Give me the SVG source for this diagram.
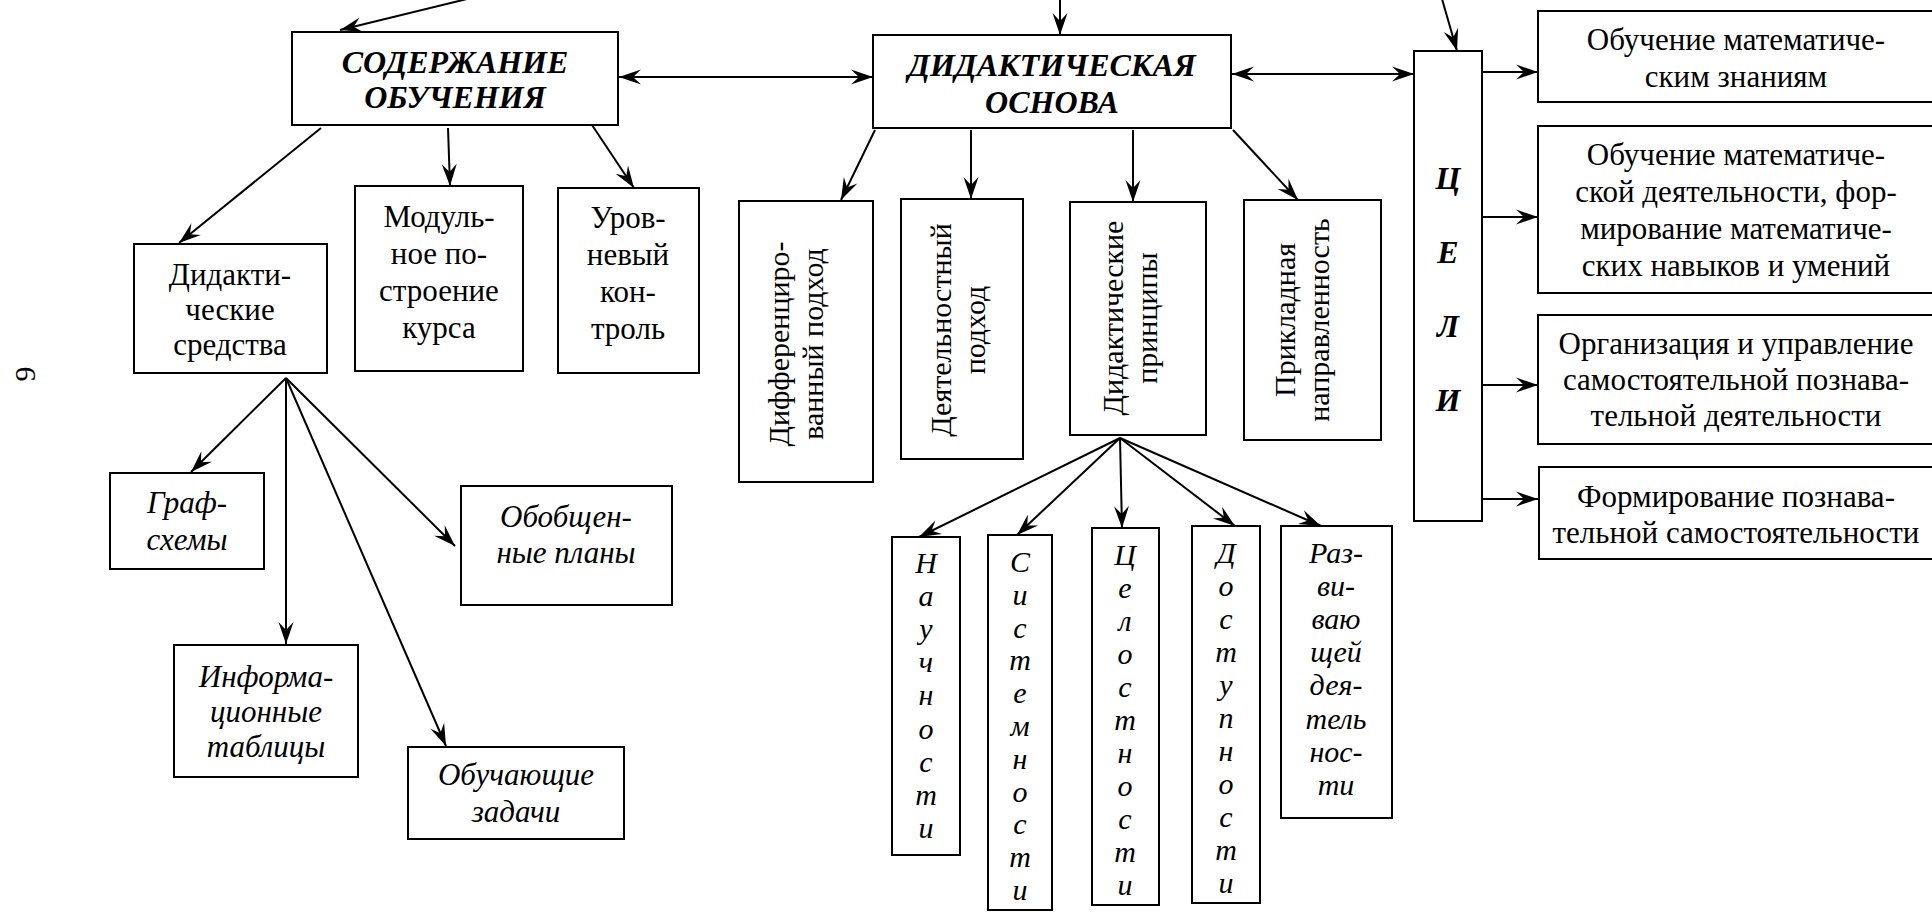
<svg xmlns="http://www.w3.org/2000/svg" width="1932" height="912" viewBox="0 0 1932 912">
<defs>
<style>
.box{fill:#fff;stroke:#000;stroke-width:2}
.t{font-family:'Liberation Serif','Times New Roman',serif;font-size:31px;text-anchor:middle;fill:#000}
.v{font-size:30px}
.i{font-style:italic}
.b{font-style:italic;font-weight:bold;font-size:32px}
.c{stroke:#000;stroke-width:2;fill:none;marker-end:url(#ah)}
.d{stroke:#000;stroke-width:2;fill:none;marker-end:url(#ah);marker-start:url(#ah)}
</style>
<marker id="ah" viewBox="-24 -9 26 18" refX="0" refY="0" markerWidth="26" markerHeight="18" markerUnits="userSpaceOnUse" orient="auto-start-reverse">
<path d="M0,0 L-22,-7.5 L-14,0 L-22,7.5 Z" fill="#000"/>
</marker>
</defs>
<rect width="1932" height="912" fill="#fff"/>

<g id="connectors">
<line class="c" x1="467" y1="-1" x2="340" y2="30"/>
<line class="c" x1="1060" y1="-1" x2="1060" y2="35"/>
<line class="c" x1="1442" y1="-1" x2="1457" y2="51"/>
<line class="d" x1="619" y1="77" x2="873" y2="77"/>
<line class="d" x1="1232" y1="74" x2="1414" y2="74"/>
<line class="c" x1="1482" y1="72" x2="1538" y2="72"/>
<line class="c" x1="1482" y1="217" x2="1538" y2="217"/>
<line class="c" x1="1482" y1="385" x2="1538" y2="385"/>
<line class="c" x1="1482" y1="499" x2="1538" y2="499"/>
<line class="c" x1="321" y1="128" x2="179" y2="243"/>
<line class="c" x1="448" y1="128" x2="450" y2="186"/>
<line class="c" x1="592" y1="125" x2="634" y2="188"/>
<line class="c" x1="286" y1="378" x2="191" y2="472"/>
<line class="c" x1="286" y1="378" x2="286" y2="644"/>
<line class="c" x1="286" y1="378" x2="455" y2="546"/>
<line class="c" x1="286" y1="378" x2="446" y2="746"/>
<line class="c" x1="875" y1="130" x2="841" y2="200"/>
<line class="c" x1="971" y1="130" x2="971" y2="199"/>
<line class="c" x1="1133" y1="130" x2="1133" y2="202"/>
<line class="c" x1="1233" y1="130" x2="1298" y2="200"/>
<line class="c" x1="1120" y1="438" x2="919" y2="537"/>
<line class="c" x1="1120" y1="438" x2="1017" y2="535"/>
<line class="c" x1="1120" y1="438" x2="1122" y2="528"/>
<line class="c" x1="1120" y1="438" x2="1235" y2="526"/>
<line class="c" x1="1120" y1="438" x2="1321" y2="526"/>
</g>

<g id="page-number">
<text class="t v" transform="translate(35,374) rotate(-90)">9</text>
</g>

<g id="soderzhanie">
<rect class="box" x="292" y="32" width="326" height="93"/>
<text class="t b"><tspan x="455" y="73">СОДЕРЖАНИЕ</tspan><tspan x="455" y="108">ОБУЧЕНИЯ</tspan></text>
</g>

<g id="didakticheskaya-osnova">
<rect class="box" x="873" y="35" width="358" height="93"/>
<text class="t b"><tspan x="1052" y="76">ДИДАКТИЧЕСКАЯ</tspan><tspan x="1052" y="113">ОСНОВА</tspan></text>
</g>

<g id="celi">
<rect class="box" x="1414" y="51" width="68" height="470"/>
<text class="t b"><tspan x="1448" y="189">Ц</tspan><tspan x="1448" y="263">Е</tspan><tspan x="1448" y="337">Л</tspan><tspan x="1448" y="411">И</tspan></text>
</g>

<g id="goal1">
<rect class="box" x="1538" y="11" width="410" height="91"/>
<text class="t"><tspan x="1736" y="50">Обучение математиче-</tspan><tspan x="1736" y="87">ским знаниям</tspan></text>
</g>
<g id="goal2">
<rect class="box" x="1538" y="126" width="410" height="167"/>
<text class="t"><tspan x="1736" y="165">Обучение математиче-</tspan><tspan x="1736" y="202">ской деятельности, фор-</tspan><tspan x="1736" y="239">мирование математиче-</tspan><tspan x="1736" y="276">ских навыков и умений</tspan></text>
</g>
<g id="goal3">
<rect class="box" x="1538" y="315" width="410" height="129"/>
<text class="t"><tspan x="1736" y="354">Организация и управление</tspan><tspan x="1736" y="390">самостоятельной познава-</tspan><tspan x="1736" y="426">тельной деятельности</tspan></text>
</g>
<g id="goal4">
<rect class="box" x="1539" y="467" width="410" height="92"/>
<text class="t"><tspan x="1736" y="507">Формирование познава-</tspan><tspan x="1736" y="543">тельной самостоятельности</tspan></text>
</g>

<g id="didakticheskie-sredstva">
<rect class="box" x="134" y="244" width="193" height="129"/>
<text class="t"><tspan x="230" y="285">Дидакти-</tspan><tspan x="230" y="320">ческие</tspan><tspan x="230" y="355">средства</tspan></text>
</g>
<g id="modulnoe">
<rect class="box" x="355" y="186" width="168" height="185"/>
<text class="t"><tspan x="439" y="227">Модуль-</tspan><tspan x="439" y="264">ное по-</tspan><tspan x="439" y="301">строение</tspan><tspan x="439" y="338">курса</tspan></text>
</g>
<g id="urovnevyy">
<rect class="box" x="558" y="188" width="141" height="185"/>
<text class="t"><tspan x="628" y="228">Уров-</tspan><tspan x="628" y="265">невый</tspan><tspan x="628" y="302">кон-</tspan><tspan x="628" y="339">троль</tspan></text>
</g>

<g id="graf-shemy">
<rect class="box" x="110" y="473" width="154" height="96"/>
<text class="t i"><tspan x="187" y="513">Граф-</tspan><tspan x="187" y="550">схемы</tspan></text>
</g>
<g id="informacionnye">
<rect class="box" x="174" y="645" width="184" height="132"/>
<text class="t i"><tspan x="266" y="687">Информа-</tspan><tspan x="266" y="722">ционные</tspan><tspan x="266" y="757">таблицы</tspan></text>
</g>
<g id="obobshennye">
<rect class="box" x="461" y="486" width="211" height="119"/>
<text class="t i"><tspan x="566" y="527">Обобщен-</tspan><tspan x="566" y="563">ные планы</tspan></text>
</g>
<g id="obuchayushchie">
<rect class="box" x="408" y="747" width="216" height="92"/>
<text class="t i"><tspan x="516" y="785">Обучающие</tspan><tspan x="516" y="822">задачи</tspan></text>
</g>

<g id="differencirovannyy">
<rect class="box" x="739" y="201" width="134" height="281"/>
<text class="t v" transform="translate(799,344) rotate(-90)"><tspan x="0" y="-10">Дифференциро-</tspan><tspan x="0" y="24">ванный подход</tspan></text>
</g>
<g id="deyatelnostnyy">
<rect class="box" x="901" y="199" width="122" height="260"/>
<text class="t v" transform="translate(961,330) rotate(-90)"><tspan x="0" y="-10">Деятельностный</tspan><tspan x="0" y="24">подход</tspan></text>
</g>
<g id="principy">
<rect class="box" x="1070" y="202" width="136" height="233"/>
<text class="t v" transform="translate(1133,318) rotate(-90)"><tspan x="0" y="-10">Дидактические</tspan><tspan x="0" y="24">принципы</tspan></text>
</g>
<g id="prikladnaya">
<rect class="box" x="1244" y="200" width="137" height="240"/>
<text class="t v" transform="translate(1305,320) rotate(-90)"><tspan x="0" y="-10">Прикладная</tspan><tspan x="0" y="24">направленность</tspan></text>
</g>

<g id="nauchnosti">
<rect class="box" x="892" y="537" width="68" height="318"/>
<text class="t i v"><tspan x="926" y="573">Н</tspan><tspan x="926" dy="33.1">а</tspan><tspan x="926" dy="33.1">у</tspan><tspan x="926" dy="33.1">ч</tspan><tspan x="926" dy="33.1">н</tspan><tspan x="926" dy="33.1">о</tspan><tspan x="926" dy="33.1">с</tspan><tspan x="926" dy="33.1">т</tspan><tspan x="926" dy="33.1">и</tspan></text>
</g>
<g id="sistemnosti">
<rect class="box" x="988" y="535" width="64" height="375"/>
<text class="t i v"><tspan x="1020" y="572">С</tspan><tspan x="1020" dy="32.8">и</tspan><tspan x="1020" dy="32.8">с</tspan><tspan x="1020" dy="32.8">т</tspan><tspan x="1020" dy="32.8">е</tspan><tspan x="1020" dy="32.8">м</tspan><tspan x="1020" dy="32.8">н</tspan><tspan x="1020" dy="32.8">о</tspan><tspan x="1020" dy="32.8">с</tspan><tspan x="1020" dy="32.8">т</tspan><tspan x="1020" dy="32.8">и</tspan></text>
</g>
<g id="celostnosti">
<rect class="box" x="1092" y="528" width="67" height="377"/>
<text class="t i v"><tspan x="1125" y="565">Ц</tspan><tspan x="1125" dy="33">е</tspan><tspan x="1125" dy="33">л</tspan><tspan x="1125" dy="33">о</tspan><tspan x="1125" dy="33">с</tspan><tspan x="1125" dy="33">т</tspan><tspan x="1125" dy="33">н</tspan><tspan x="1125" dy="33">о</tspan><tspan x="1125" dy="33">с</tspan><tspan x="1125" dy="33">т</tspan><tspan x="1125" dy="33">и</tspan></text>
</g>
<g id="dostupnosti">
<rect class="box" x="1192" y="526" width="68" height="377"/>
<text class="t i v"><tspan x="1226" y="563">Д</tspan><tspan x="1226" dy="33">о</tspan><tspan x="1226" dy="33">с</tspan><tspan x="1226" dy="33">т</tspan><tspan x="1226" dy="33">у</tspan><tspan x="1226" dy="33">п</tspan><tspan x="1226" dy="33">н</tspan><tspan x="1226" dy="33">о</tspan><tspan x="1226" dy="33">с</tspan><tspan x="1226" dy="33">т</tspan><tspan x="1226" dy="33">и</tspan></text>
</g>
<g id="razvivayushchey">
<rect class="box" x="1281" y="526" width="111" height="292"/>
<text class="t i v"><tspan x="1336" y="563">Раз-</tspan><tspan x="1336" dy="33.1">ви-</tspan><tspan x="1336" dy="33.1">ваю</tspan><tspan x="1336" dy="33.1">щей</tspan><tspan x="1336" dy="33.1">дея-</tspan><tspan x="1336" dy="33.1">тель</tspan><tspan x="1336" dy="33.1">нос-</tspan><tspan x="1336" dy="33.1">ти</tspan></text>
</g>
</svg>
